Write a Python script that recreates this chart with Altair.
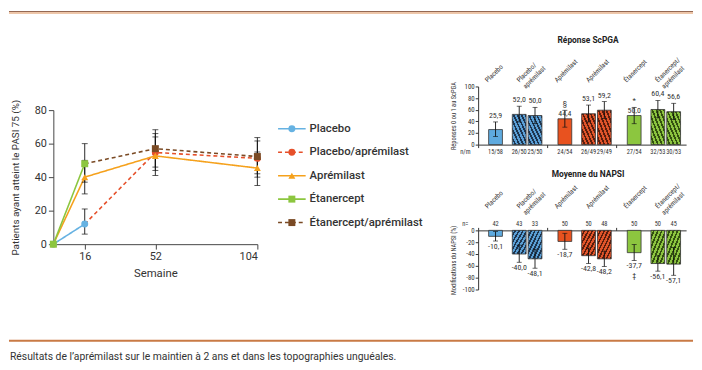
import altair as alt
import pandas as pd

FONT = "Roboto"
NARROW = "Liberation Sans Narrow, Roboto Condensed, DejaVu Sans Condensed, Roboto"
INK = "#333333"
AXIS_C = "#444444"

# ---------------- PASI 75 line chart data ----------------
weeks = [0, 16, 52, 104]
series = ["Placebo", "Placebo/aprémilast", "Aprémilast", "Étanercept", "Étanercept/aprémilast"]
switch_series = ["Placebo/aprémilast", "Étanercept/aprémilast"]

pasi_placebo = [0, 12.0, None, None]
pasi_placebo_apr = [None, 12.0, 54.7, 51.2]
pasi_apremilast = [0, 40.0, 52.7, 45.4]
pasi_etanercept = [0, 48.0, None, None]
pasi_etanercept_apr = [None, 48.0, 57.0, 52.3]

ci_low_placebo = [None, 6.0, None, None]
ci_high_placebo = [None, 21.0, None, None]
ci_low_placebo_apr = [None, None, 44.0, 40.0]
ci_high_placebo_apr = [None, None, 66.0, 61.6]
ci_low_apremilast = [None, 30.0, 41.0, 35.0]
ci_high_apremilast = [None, 50.0, 64.0, 55.0]
ci_low_etanercept = [None, 37.0, None, None]
ci_high_etanercept = [None, 60.0, None, None]
ci_low_etanercept_apr = [None, None, 46.0, 42.0]
ci_high_etanercept_apr = [None, None, 68.3, 63.6]

series_colors = ["#66b2e2", "#e6502a", "#f5a11c", "#8cc63f", "#7a4a24"]
series_shapes = ["circle", "circle", "triangle-up", "square", "square"]
series_dashes = [[1, 0], [4, 3], [1, 0], [1, 0], [4, 3]]

# ---------------- bar panels data ----------------
groups = ["Placebo", "Aprémilast", "Étanercept"]
slots = ["lead", "single", "gap_a", "gap_b", "pair_1", "pair_mid", "pair_2", "tail"]
bar_group = ["Placebo", "Placebo", "Placebo", "Aprémilast", "Aprémilast", "Aprémilast",
             "Étanercept", "Étanercept", "Étanercept"]
bar_slot = ["single", "pair_1", "pair_2"] * 3

scpga_values = [25.9, 52.0, 50.0, 44.4, 53.1, 59.2, 50.0, 60.4, 56.6]
scpga_low = [14.0, 39.0, 36.0, 30.0, 39.0, 45.0, 36.0, 46.0, 43.0]
scpga_high = [39.0, 66.0, 64.0, 59.0, 68.0, 74.0, 64.0, 76.0, 71.0]
scpga_nm = ["15/58", "26/50", "25/50", "24/54", "26/49", "29/49", "27/54", "32/53", "30/53"]
scpga_marks = ["", "", "", "§", "", "", "*", "", ""]

napsi_values = [-10.1, -40.0, -48.1, -18.7, -42.8, -48.2, -37.7, -56.1, -57.1]
napsi_low = [-18.0, -54.0, -64.0, -32.0, -56.0, -61.0, -51.0, -69.0, -76.0]
napsi_high = [-2.0, -25.0, -32.0, -5.0, -30.0, -35.0, -24.0, -43.0, -29.0]
napsi_n = ["42", "43", "33", "50", "50", "48", "50", "50", "45"]
napsi_marks = ["", "", "", "", "", "", "‡", "", ""]

header_group = ["Placebo", "Placebo", "Aprémilast", "Aprémilast", "Étanercept", "Étanercept"]
header_slot = ["single", "pair_mid"] * 3
header_text = ["Placebo", "Placebo/\naprémilast", "Aprémilast", "Aprémilast",
               "Étanercept", "Étanercept/\naprémilast"]

solid_colors = ["#5eaadf", "#e8521f", "#8cc63f"]
hatch_base = ["#5a9fd6", "#e0542a", "#8cc440"]
hatch_dark = ["#1d3550", "#5a1d0c", "#33500f"]

caption_text = "Résultats de l’aprémilast sur le maintien à 2 ans et dans les topographies unguéales."

one = pd.DataFrame({"k": [0]})


def spacer(x, y1, y2):
    # invisible guide that fixes the layout extent of a panel
    return alt.Chart(one).mark_rule(opacity=0).encode(
        x=alt.value(x), y=alt.value(y1), y2=alt.value(y2))


# ---------------- line chart ----------------
rows = []
pasi_lists = [pasi_placebo, pasi_placebo_apr, pasi_apremilast, pasi_etanercept, pasi_etanercept_apr]
low_lists = [ci_low_placebo, ci_low_placebo_apr, ci_low_apremilast, ci_low_etanercept, ci_low_etanercept_apr]
high_lists = [ci_high_placebo, ci_high_placebo_apr, ci_high_apremilast, ci_high_etanercept, ci_high_etanercept_apr]
for s, vals, lows, highs in zip(series, pasi_lists, low_lists, high_lists):
    first = True
    for w, v, lo, hi in zip(weeks, vals, lows, highs):
        if v is None:
            continue
        rows.append(dict(series=s, week=w, pasi=v, lo=lo, hi=hi,
                         marker=not (first and s in switch_series)))
        first = False
pasi_df = pd.DataFrame(rows)

LINE_H = 160
LINE_TOP = 24

color_enc = alt.Color("series:N", scale=alt.Scale(domain=series, range=series_colors), legend=None)
dash_enc = alt.StrokeDash("series:N", scale=alt.Scale(domain=series, range=series_dashes), legend=None)
shape_enc = alt.Shape("series:N", scale=alt.Scale(domain=series, range=series_shapes), legend=None)

x_week = alt.X("week:Q", scale=alt.Scale(domain=[0, 104], nice=False),
               axis=alt.Axis(values=[16, 52, 104], title="Semaine", grid=False,
                             domainColor=AXIS_C, tickColor=AXIS_C, labelColor=INK, titleColor=INK,
                             labelFontSize=11, titleFontSize=11.5, titleFontWeight="normal",
                             labelFont=FONT, titleFont=FONT, tickSize=5, labelPadding=2,
                             titlePadding=6))
y_scale = alt.Scale(domain=[0, 80], nice=False, range=[LINE_H, LINE_TOP])
y_axis = alt.Axis(values=[0, 20, 40, 60, 80], title="Patients ayant atteint le PASI 75 (%)",
                  grid=False, domainColor=AXIS_C, tickColor=AXIS_C, labelColor=INK,
                  titleColor=INK, labelFontSize=11, titleFontSize=10, titleFontWeight="normal",
                  labelFont=FONT, titleFont=FONT, tickSize=5, labelPadding=2, titleX=-33)

base_line = alt.Chart(pasi_df).encode(x=x_week)
lines = base_line.mark_line(strokeWidth=1.6).encode(
    y=alt.Y("pasi:Q", scale=y_scale, axis=y_axis), color=color_enc, strokeDash=dash_enc,
    detail="series:N")
err = base_line.mark_rule(color="#111111", strokeWidth=0.9).encode(
    y=alt.Y("lo:Q", scale=y_scale, axis=y_axis), y2="hi:Q").transform_filter("isValid(datum.lo)")
cap_lo = base_line.mark_tick(orient="horizontal", size=6, thickness=1, color="#111111").encode(
    y=alt.Y("lo:Q", scale=y_scale, axis=y_axis)).transform_filter("isValid(datum.lo)")
cap_hi = base_line.mark_tick(orient="horizontal", size=6, thickness=1, color="#111111").encode(
    y=alt.Y("hi:Q", scale=y_scale, axis=y_axis)).transform_filter("isValid(datum.hi)")
points = base_line.mark_point(filled=True, size=50, opacity=1).encode(
    y=alt.Y("pasi:Q", scale=y_scale, axis=y_axis), color=color_enc, shape=shape_enc
).transform_filter("datum.marker")

legend_df = pd.DataFrame({"series": series})
leg_y = alt.Y("series:N", scale=alt.Scale(type="point", domain=series, range=[31, 150]), axis=None)
leg_base = alt.Chart(legend_df).encode(y=leg_y)
leg_rule = leg_base.mark_rule(strokeWidth=1.6).encode(
    x=alt.value(228), x2=alt.value(256), color=color_enc, strokeDash=dash_enc)
leg_pt = leg_base.mark_point(filled=True, size=50, opacity=1).encode(
    x=alt.value(242), color=color_enc, shape=shape_enc)
leg_txt = leg_base.mark_text(align="left", baseline="middle", fontSize=11.5, font=FONT,
                             fontWeight=500, color=INK).encode(x=alt.value(260), text="series:N")

line_chart = alt.layer(
    alt.layer(lines, err, cap_lo, cap_hi, points, spacer(394, -70, 60)),
    alt.layer(leg_rule, leg_pt, leg_txt),
).resolve_scale(y="independent").properties(width=207, height=LINE_H)


# ---------------- bar panels ----------------
def stripes(base, dark, n, forward):
    stops = []
    for i in range(n):
        a = round(i / n, 4)
        b = round((i + 0.55) / n, 4)
        c = round((i + 1) / n, 4)
        stops += [alt.GradientStop(color=base, offset=a), alt.GradientStop(color=base, offset=b),
                  alt.GradientStop(color=dark, offset=b), alt.GradientStop(color=dark, offset=c)]
    if forward:
        return alt.LinearGradient(gradient="linear", stops=stops, x1=0, y1=0, x2=1, y2=1)
    return alt.LinearGradient(gradient="linear", stops=stops, x1=0, y1=1, x2=1, y2=0)


def bar_panel(values, low, high, marks, counts, title_text, y_title, y_domain, y_ticks,
              napsi, height, count_label, title_offset, guide_bottom):
    labels = []
    for v, m in zip(values, marks):
        t = f"{v:.1f}".replace(".", ",")
        if m:
            t = f"{t}\n{m}" if napsi else f"{m}\n{t}"
        labels.append(t)
    df = pd.DataFrame(dict(group=bar_group, slot=bar_slot, value=values, lo=low, hi=high,
                           label=labels, count=counts))
    df["hatched"] = df["slot"].str.startswith("pair")

    x_scale = alt.Scale(domain=groups, paddingInner=0, paddingOuter=0)
    x_axis = alt.Axis(title=None, labels=False, bandPosition=0, tickSize=3, grid=False,
                      domainColor="#333333", tickColor="#333333",
                      orient="top" if napsi else "bottom")
    xo_scale = alt.Scale(domain=slots, paddingInner=0, paddingOuter=0.39, align=0.9)
    ysc = alt.Scale(domain=y_domain, nice=False)
    yax_kwargs = dict(values=y_ticks, title=y_title, grid=False, domainColor="#333333",
                      tickColor="#333333", labelColor=INK, titleColor=INK, labelFontSize=7,
                      titleFontSize=6.5, titleFontWeight="normal", labelFont=NARROW,
                      titleFont=NARROW, tickSize=3, labelPadding=1, titleX=-22)
    if napsi:
        yax_kwargs["labelExpr"] = "replace(datum.label, '−', '-')"
    yax = alt.Axis(**yax_kwargs)

    def enc_x():
        return dict(x=alt.X("group:N", scale=x_scale, axis=x_axis),
                    xOffset=alt.XOffset("slot:N", scale=xo_scale))

    base = alt.Chart(df).encode(**enc_x())
    layers = []
    for g, sc in zip(groups, solid_colors):
        layers.append(base.mark_bar(width=14, stroke="#333333", strokeWidth=0.8, fill=sc).encode(
            y=alt.Y("value:Q", scale=ysc, axis=yax)
        ).transform_filter((~alt.datum.hatched) & (alt.datum.group == g)))
    for g, bc, dc in zip(groups, hatch_base, hatch_dark):
        layers.append(base.mark_bar(width=14, stroke="#333333", strokeWidth=0.8,
                                    fill=stripes(bc, dc, 7, napsi)).encode(
            y=alt.Y("value:Q", scale=ysc, axis=yax)
        ).transform_filter(alt.datum.hatched & (alt.datum.group == g)))
    layers.append(base.mark_rule(color="#111111", strokeWidth=0.9).encode(
        y=alt.Y("lo:Q", scale=ysc, axis=yax), y2="hi:Q"))
    for f in ["lo", "hi"]:
        layers.append(base.mark_tick(orient="horizontal", size=5, thickness=0.9,
                                     color="#111111").encode(y=alt.Y(f"{f}:Q", scale=ysc, axis=yax)))
    if napsi:
        layers.append(base.mark_text(fontSize=8, font=NARROW, color=INK, baseline="top", dy=2,
                                     lineBreak="\n").encode(
            y=alt.Y("lo:Q", scale=ysc, axis=yax), text="label:N"))
        count_y = -6
        header_y = -21
    else:
        layers.append(base.mark_text(fontSize=8, font=NARROW, color=INK, baseline="bottom", dy=-2,
                                     lineBreak="\n").encode(
            y=alt.Y("hi:Q", scale=ysc, axis=yax), text="label:N"))
        count_y = height + 8
        header_y = -3
    layers.append(base.mark_text(fontSize=6.5, font=NARROW, color=INK, baseline="middle").encode(
        y=alt.value(count_y), text="count:N"))
    layers.append(alt.Chart(one).mark_text(
        fontSize=6.5, font=NARROW, color=INK, baseline="middle").encode(
        x=alt.value(-13), y=alt.value(count_y), text=alt.value(count_label)))
    hdr = pd.DataFrame(dict(group=header_group, slot=header_slot, text=header_text))
    layers.append(alt.Chart(hdr).mark_text(angle=315, align="left", baseline="bottom", fontSize=7,
                                           font=NARROW, color=INK, lineBreak="\n", dx=-5, dy=-5).encode(
        y=alt.value(header_y), text="text:N", **enc_x()))
    layers.append(spacer(-30, 0, guide_bottom))
    return alt.layer(*layers).properties(
        width=211, height=height,
        title=alt.TitleParams(title_text, fontSize=8.5, fontWeight="bold", color="#222222",
                              font=FONT, anchor="middle", frame="group", dx=6,
                              offset=title_offset))


scpga = bar_panel(scpga_values, scpga_low, scpga_high, scpga_marks, scpga_nm, "Réponse ScPGA",
                  "Réponses 0 ou 1 au ScPGA", [0, 100], [0, 20, 40, 60, 80, 100], False, 59, "n/m",
                  12, 74)
napsi = bar_panel(napsi_values, napsi_low, napsi_high, napsi_marks, napsi_n, "Moyenne du NAPSI",
                  "Modifications du NAPSI (%)", [-100, 0], [0, -20, -40, -60, -80, -100], True, 60,
                  "n=", 4, 80)
right_block = alt.vconcat(scpga, napsi, spacing=10)

main = alt.hconcat(line_chart, right_block, spacing=7).resolve_scale(
    color="independent", shape="independent", strokeDash="independent")

top_rule_dark = alt.Chart(one).mark_rule(color="#8e5f48", strokeWidth=1).encode(
    x=alt.value(-45), x2=alt.value(649), y=alt.value(0))
top_rule_light = alt.Chart(one).mark_rule(color="#e8b48e", strokeWidth=1.5).encode(
    x=alt.value(-45), x2=alt.value(649), y=alt.value(1.5))
top_rule = alt.layer(top_rule_dark, top_rule_light).properties(width=1, height=2)

cap_rule = alt.Chart(one).mark_rule(color="#c97a45", strokeWidth=2).encode(
    x=alt.value(-45), x2=alt.value(649), y=alt.value(29))
cap_txt = alt.Chart(one).mark_text(align="left", baseline="middle", fontSize=10.5, font=FONT,
                                   color=INK).encode(x=alt.value(-44), y=alt.value(46),
                                                     text=alt.value(caption_text))
caption = alt.layer(cap_rule, cap_txt).properties(width=1, height=48)

chart = alt.vconcat(top_rule, main, caption, spacing=3).properties(padding=0).configure(
    font=FONT).configure_view(strokeWidth=0)

chart.save("out.html", embed_options={"renderer": "svg", "actions": False})
